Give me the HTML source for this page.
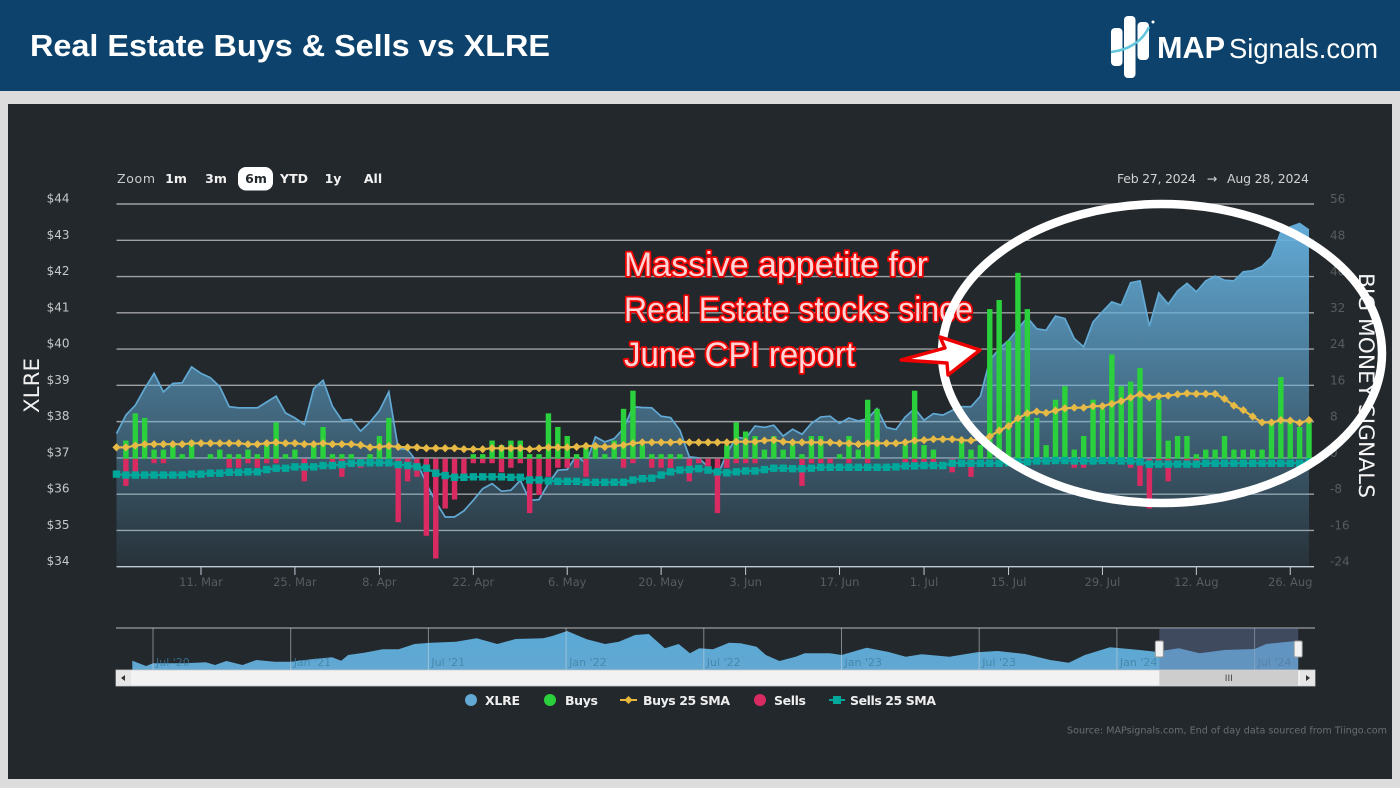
<!DOCTYPE html>
<html lang="en">
<head>
<meta charset="utf-8">
<title>Real Estate Buys &amp; Sells vs XLRE</title>
<style>
html,body{margin:0;padding:0;background:#dcdcdc;}
svg{display:block;}
text{font-family:"DejaVu Sans","Liberation Sans",sans-serif;}
.hd{font-family:"Liberation Sans",sans-serif;}
.btn{font-size:12.5px;font-weight:700;fill:#f2f2f2;text-anchor:middle;}
.leg{font-size:12.5px;font-weight:700;fill:#eeeeee;}
.note{font-family:"Liberation Sans",sans-serif;font-size:34px;fill:#ffd4d4;stroke:#f00000;stroke-width:3.6px;paint-order:stroke;stroke-linejoin:round;}
</style>
</head>
<body>
<svg id="root" xmlns="http://www.w3.org/2000/svg" width="1400" height="788" viewBox="0 0 1400 788">
  <defs>
    <linearGradient id="areaGrad" x1="0" y1="0" x2="0" y2="1">
      <stop offset="0" stop-color="#64afdc" stop-opacity="0.97"/>
      <stop offset="1" stop-color="#64afdc" stop-opacity="0.07"/>
    </linearGradient>
    <linearGradient id="navGrad" x1="0" y1="0" x2="0" y2="1">
      <stop offset="0" stop-color="#5aa9d6"/>
      <stop offset="1" stop-color="#62a8d2"/>
    </linearGradient>
  </defs>
  <rect width="1400" height="788" fill="#dcdcdc"/>
  <rect width="1400" height="91" fill="#0c426b"/>
  <text class="hd" x="30" y="56" font-size="31" font-weight="700" fill="#fff" textLength="520" lengthAdjust="spacingAndGlyphs">Real Estate Buys &amp; Sells vs XLRE</text>
  <g>
    <rect x="1111" y="28" width="11.5" height="38" rx="4" fill="#fff"/>
    <rect x="1124" y="16" width="11.5" height="62" rx="4" fill="#fff"/>
    <rect x="1137.5" y="22" width="11.5" height="38" rx="4" fill="#fff"/>
    <path d="M1111 52 C1128 50 1142 42 1149 27" fill="none" stroke="#62c6dc" stroke-width="2.6"/>
    <circle cx="1153" cy="22" r="1.5" fill="#fff"/>
    <text class="hd" x="1157" y="58" font-size="31" font-weight="700" fill="#fff" textLength="68" lengthAdjust="spacingAndGlyphs">MAP</text>
    <text class="hd" x="1229" y="58" font-size="28" fill="#fff" textLength="149" lengthAdjust="spacingAndGlyphs">Signals.com</text>
  </g>
  <rect x="8" y="104" width="1384" height="675" fill="#23282c"/>

  <g>
    <text x="117" y="183" font-size="12.5" fill="#c8cacb" textLength="38">Zoom</text>
    <text class="btn" x="176" y="183">1m</text>
    <text class="btn" x="216" y="183">3m</text>
    <rect x="238" y="167" width="35" height="23.5" rx="8" fill="#fff"/>
    <text class="btn" x="256" y="183" style="fill:#23282c">6m</text>
    <text class="btn" x="294" y="183">YTD</text>
    <text class="btn" x="333" y="183">1y</text>
    <text class="btn" x="373" y="183">All</text>
  </g>
  <g>
    <text x="1117" y="183" font-size="12.5" fill="#d0d2d3" textLength="79">Feb 27, 2024</text>
    <text x="1212" y="183" font-size="12.5" fill="#d0d2d3" text-anchor="middle">→</text>
    <text x="1227" y="183" font-size="12.5" fill="#d0d2d3" textLength="82">Aug 28, 2024</text>
  </g>

  <g id="gridLayer"></g>
  <g id="areaLayer"></g>
  <g id="barLayer"></g>
  <g id="smaLayer"></g>
  <g id="axisLayer"></g>

  <text transform="translate(39,413) rotate(-90)" font-size="21" fill="#f0f0f0" textLength="55" lengthAdjust="spacingAndGlyphs">XLRE</text>
  <text transform="translate(1359,273) rotate(90)" font-size="21" fill="#f5f5f5" textLength="225" lengthAdjust="spacingAndGlyphs">BIG MONEY SIGNALS</text>

  <g id="navLayer"></g>

  <g>
    <g>
      <circle cx="471" cy="700" r="6" fill="#62a9d4"/>
      <text class="leg" x="485" y="705" textLength="35">XLRE</text>
    </g>
    <g>
      <circle cx="550" cy="700" r="6" fill="#2ad13c"/>
      <text class="leg" x="565" y="705" textLength="33">Buys</text>
    </g>
    <g>
      <line x1="620" y1="700" x2="637" y2="700" stroke="#e8b83c" stroke-width="2"/>
      <polygon points="628.5,696 632.5,700 628.5,704 624.5,700" fill="#e8b83c"/>
      <text class="leg" x="643" y="705" textLength="87">Buys 25 SMA</text>
    </g>
    <g>
      <circle cx="760" cy="700" r="6" fill="#d92b62"/>
      <text class="leg" x="774" y="705" textLength="32">Sells</text>
    </g>
    <g>
      <line x1="829" y1="700" x2="845" y2="700" stroke="#00a79b" stroke-width="2"/>
      <rect x="833" y="696" width="8" height="8" fill="#00a79b"/>
      <text class="leg" x="850" y="705" textLength="86">Sells 25 SMA</text>
    </g>
  </g>
  <text x="1067" y="733.5" font-size="9.5" fill="#6a6e70" textLength="320" lengthAdjust="spacingAndGlyphs">Source: MAPsignals.com, End of day data sourced from Tiingo.com</text>

  <g>
    <text class="note" x="624" y="276" textLength="304" lengthAdjust="spacingAndGlyphs">Massive appetite for</text>
    <text class="note" x="624" y="321" textLength="349" lengthAdjust="spacingAndGlyphs">Real Estate stocks since</text>
    <text class="note" x="624" y="366" textLength="231" lengthAdjust="spacingAndGlyphs">June CPI report</text>
    <ellipse cx="1162" cy="353.5" rx="220" ry="149.5" fill="none" stroke="#fff" stroke-width="8.5"/>
    <polygon points="901,360 945,348 940,337 980,350 948,375 947,363" fill="#fff" stroke="#ee0000" stroke-width="3.4" stroke-linejoin="round"/>
  </g>
</svg>

<script>
var tickLabels = ['11. Mar','25. Mar','8. Apr','22. Apr','6. May','20. May','3. Jun','17. Jun','1. Jul','15. Jul','29. Jul','12. Aug','26. Aug'];
var tickDayIndex = [9,19,28,38,48,58,67,77,86,95,105,115,125];
var priceTicks = [44,43,42,41,40,39,38,37,36,35,34];
var signalTicks = [56,48,40,32,24,16,8,0,-8,-16,-24];

var xlreValues = [37.67,38.18,38.45,38.91,39.33,38.82,39.05,39.07,39.51,39.33,
39.21,38.96,38.41,38.38,38.38,38.38,38.54,38.70,38.24,38.10,
37.92,38.91,39.14,38.42,38.04,38.06,37.74,37.99,38.30,38.82,
37.26,37.23,36.89,36.29,35.79,35.37,35.37,35.54,35.83,36.15,
36.29,36.08,36.11,36.38,35.83,35.85,36.29,36.66,36.68,37.07,
36.84,37.58,37.44,37.53,37.81,38.41,38.39,38.38,38.15,38.11,
37.76,37.03,37.00,36.75,36.52,37.12,37.58,37.53,37.88,37.84,
37.90,37.60,37.79,37.65,37.95,38.13,38.15,37.95,38.10,38.02,
38.08,38.36,37.84,37.78,38.13,38.36,38.04,38.22,38.18,38.31,
38.41,38.41,38.70,39.69,40.01,40.24,40.56,40.87,40.56,40.52,
40.91,40.84,40.29,40.06,40.75,41.03,41.30,41.21,41.83,41.88,
40.63,41.55,41.24,41.60,41.81,41.58,41.88,42.01,41.90,41.88,
42.13,42.16,42.28,42.54,43.23,43.37,43.46,43.28];

var buysValues = [0,4,10,9,2,2,3,1,4,0,
1,2,1,1,2,1,3,8,1,2,
0,3,7,1,1,1,0,1,5,9,
0,0,0,0,0,0,0,0,1,1,
4,3,4,4,1,1,10,7,5,1,
3,3,1,4,11,15,3,1,1,1,
1,0,0,0,0,3,8,6,5,2,
5,2,3,1,5,5,0,1,5,2,
13,11,0,0,3,15,3,2,0,0,
4,2,3,33,35,26,41,33,9,3,
13,16,2,5,13,11,23,16,17,20,
0,13,4,5,5,1,2,2,5,2,
2,2,2,8,18,8,7,8];

var sellsValues = [0,-6,-3,0,-1,-1,0,0,0,0,
0,0,-2,-2,-1,-2,-1,-1,0,0,
-5,0,0,-1,-4,0,-2,0,0,0,
-14,-5,-4,-17,-22,-11,-9,-4,-1,-1,
-1,-3,-2,-1,-12,-8,-4,-2,-2,-2,
-4,0,0,0,-2,-1,0,-2,-2,-2,
0,-5,-1,-2,-12,-2,-1,-1,-1,0,
0,0,0,-6,-1,-1,-1,0,-1,0,
-1,0,0,0,-1,-1,-1,-1,0,-3,
0,-4,0,0,0,0,0,0,0,0,
0,0,-2,-2,0,0,0,0,-2,-6,
-11,-1,-5,0,-1,-1,0,0,0,0,
0,0,0,0,0,0,0,0];

var buysSmaValues = [2.5,2.5,2.9,3.2,3.2,3.2,3.2,3.2,3.4,3.4,
3.4,3.4,3.4,3.4,3.2,3.2,3.4,3.6,3.4,3.4,
3.2,3.2,3.4,3.2,3.2,3.2,3.0,2.5,2.6,2.8,
2.6,2.5,2.5,2.3,2.3,2.3,2.3,2.1,2.1,2.1,
2.3,2.3,2.3,2.3,2.1,2.3,2.5,2.5,2.5,2.6,
2.8,2.8,2.6,2.8,3.0,3.4,3.6,3.6,3.6,3.6,
3.75,3.6,3.6,3.6,3.6,3.6,3.75,3.75,3.75,4.0,
4.1,3.75,3.6,3.6,3.6,3.6,3.6,3.4,3.4,3.2,
3.4,3.4,3.4,3.4,3.6,4.0,4.1,4.3,4.3,4.3,
4.1,4.0,4.3,4.9,6.2,7.2,8.9,10.0,10.4,10.1,
10.6,11.1,11.25,11.25,11.6,11.6,12.1,12.7,13.5,14.2,
13.5,13.8,13.9,14.2,14.4,14.3,14.3,14.3,13.2,11.7,
10.7,9.3,8.0,8.0,8.5,8.4,7.9,8.5];

var sellsSmaValues = [-3.4,-3.6,-3.6,-3.6,-3.6,-3.6,-3.6,-3.6,-3.4,-3.4,
-3.2,-3.2,-3.0,-3.0,-2.9,-2.9,-2.4,-2.1,-2.1,-1.8,
-1.8,-1.8,-1.5,-1.5,-1.3,-1.0,-0.9,-0.9,-0.9,-0.9,
-1.3,-1.5,-1.8,-2.1,-3.2,-3.7,-4.1,-4.1,-4.0,-4.0,
-4.0,-4.0,-4.1,-4.1,-4.7,-4.7,-4.9,-5.0,-5.0,-5.0,
-5.2,-5.2,-5.2,-5.2,-5.2,-4.7,-4.4,-4.3,-3.6,-2.9,
-2.5,-2.4,-2.2,-2.5,-2.9,-3.1,-2.9,-2.7,-2.7,-2.4,
-2.1,-2.1,-2.2,-2.2,-2.1,-1.9,-1.9,-1.9,-1.9,-1.9,
-1.9,-1.9,-1.9,-1.8,-1.6,-1.6,-1.5,-1.5,-1.5,-1.0,
-1.0,-1.0,-1.0,-1.0,-1.0,-0.9,-0.7,-0.7,-0.5,-0.5,
-0.4,-0.4,-0.5,-0.5,-0.5,-0.4,-0.4,-0.5,-0.5,-0.7,
-1.2,-1.2,-1.2,-1.2,-1.2,-1.2,-1.0,-1.0,-1.0,-1.0,
-1.0,-1.0,-1.0,-1.0,-1.0,-1.0,-1.0,-0.7];

var navLabels = ["Jul '20","Jan '21","Jul '21","Jan '22","Jul '22","Jan '23","Jul '23","Jan '24","Jul '24"];
var navLabelMonths = [6,12,18,24,30,36,42,48,54];
var navMonths = [5.1,5.7,6,6.7,7.4,8.3,8.7,9.2,9.9,10.5,11.3,12,12.9,13.8,14.2,14.5,15.2,16,16.7,17.4,18.1,19.2,20.1,21,21.8,23,23.4,24.05,24.9,25.7,26.3,27,27.6,28.3,28.9,29.4,29.8,30.4,31.1,31.6,32.3,32.7,33.3,34,34.4,35.5,36,37.1,38,38.8,39.5,40.7,41.9,42.8,44,45.1,45.9,46.6,47.7,49,49.7,50.7,51.6,52.7,54,54.5,55.9];
var navPrices = [34.65,32,33.35,33.35,33.35,33.85,32.5,34.5,32.5,35,34.15,34.15,35.35,36.35,34.65,37.5,38.65,40.35,40.35,43,43.65,44.15,45.85,43,45.5,45.85,47,49.5,45.35,43,44.15,47.5,48,40.85,43,38.35,40.85,40.35,43.65,43.35,41.65,37.5,34.5,36.65,38.35,38.35,37.5,41.15,39.15,36.65,37.85,36.65,38.85,39.5,38,35,33.65,37.5,41.35,40,39.15,40.85,38.35,40,40.5,43,44.65];
var navSelectedMonths = [49.85,55.9];

var SVGNS = 'http://www.w3.org/2000/svg';
function xDay(i){ return 116.5 + 9.39 * i; }
function yPrice(p){ return 204 + (44 - p) * 36.27; }
function ySignal(v){ return 458.7 - 4.534 * v; }
function xMonth(m){ return 153 + (m - 6) * 22.95; }
function yNav(p){ return 670 - (p - 30) * 2; }
function make(tag, attrs, parent, txt){
  var el = document.createElementNS(SVGNS, tag);
  for (var k in attrs) el.setAttribute(k, attrs[k]);
  if (txt !== undefined) el.textContent = txt;
  parent.appendChild(el);
  return el;
}
function pts(values, xf, yf){
  return values.map(function(v, i){ return xf(i).toFixed(1) + ',' + yf(v).toFixed(1); }).join(' ');
}

var gridLayer = document.getElementById('gridLayer');
var axisLayer = document.getElementById('axisLayer');
var areaLayer = document.getElementById('areaLayer');
var barLayer = document.getElementById('barLayer');
var smaLayer = document.getElementById('smaLayer');
var navLayer = document.getElementById('navLayer');

priceTicks.forEach(function(p){
  var g = make('line', {x1:116.5, x2:1314, y1:yPrice(p), y2:yPrice(p), stroke:p === 34 ? '#c4ccd6' : '#a0a1a2', 'stroke-width':1.4}, gridLayer);
  
  
  var t = make('text', {x:69.5, y:yPrice(p) - 1.5, 'font-size':12, fill:'#c6c9ca', 'text-anchor':'end'}, axisLayer, '$' + p);
  
  
});
signalTicks.forEach(function(v, i){
  var t = make('text', {x:1330, y:yPrice(priceTicks[i]) - 1, 'font-size':12, fill:'#585c5f'}, axisLayer, String(v));
  
  
});
tickLabels.forEach(function(lab, i){
  var x = xDay(tickDayIndex[i]);
  var l = make('line', {x1:x, x2:x, y1:567, y2:575, stroke:'#c4ccd6', 'stroke-width':1}, axisLayer);
  
  
  var t = make('text', {x:x, y:586, 'font-size':11.5, fill:'#585c5f', 'text-anchor':'middle'}, axisLayer, lab);
  
  
});

var lastX = xDay(xlreValues.length - 1);
var areaPts = xDay(0) + ',567 ' + pts(xlreValues, xDay, yPrice) + ' ' + lastX + ',567';
var area = make('polygon', {points:areaPts, fill:'url(#areaGrad)'}, areaLayer);


var xline = make('polyline', {points:pts(xlreValues, xDay, yPrice), fill:'none', stroke:'#62a9d4', 'stroke-width':1.7}, areaLayer);



var zeroY = ySignal(0);
sellsValues.forEach(function(v, i){
  if (!v) return;
  var y = ySignal(v);
  var r = make('rect', {x:xDay(i) - 2.7, y:zeroY, width:5.4, height:y - zeroY, fill:'#d92b62'}, barLayer);
  
  
});
buysValues.forEach(function(v, i){
  if (!v) return;
  var y = ySignal(v);
  var r = make('rect', {x:xDay(i) - 2.7, y:y, width:5.4, height:zeroY - y, fill:'#2ad13c'}, barLayer);
  
  
});

var sellsLine = make('polyline', {points:pts(sellsSmaValues, xDay, ySignal), fill:'none', stroke:'#00a79b', 'stroke-width':2.2}, smaLayer);


sellsSmaValues.forEach(function(v, i){
  var x = xDay(i), y = ySignal(v);
  var r = make('rect', {x:x - 3.7, y:y - 3.7, width:7.4, height:7.4, fill:'#00a79b'}, smaLayer);
  
  
});
var buysLine = make('polyline', {points:pts(buysSmaValues, xDay, ySignal), fill:'none', stroke:'#e6ba45', 'stroke-width':2.2}, smaLayer);


buysSmaValues.forEach(function(v, i){
  var x = xDay(i), y = ySignal(v), d = 4.1;
  var p = make('polygon', {points:x + ',' + (y - d) + ' ' + (x + d) + ',' + y + ' ' + x + ',' + (y + d) + ' ' + (x - d) + ',' + y, fill:'#e6ba45'}, smaLayer);
  
  
});

/* navigator */
var navTop = make('line', {x1:116, x2:1315, y1:628, y2:628, stroke:'#9a9c9d', 'stroke-width':1.2}, navLayer);


var navArea = make('polygon', {points:xMonth(navMonths[0]) + ',670 ' + navPrices.map(function(p, i){ return xMonth(navMonths[i]).toFixed(1) + ',' + yNav(p).toFixed(1); }).join(' ') + ' ' + xMonth(navMonths[navMonths.length - 1]) + ',670', fill:'url(#navGrad)'}, navLayer);


navLabels.forEach(function(lab, i){
  var x = xMonth(navLabelMonths[i]);
  var l = make('line', {x1:x, x2:x, y1:628, y2:670, stroke:'#c9d3dc', 'stroke-opacity':0.55, 'stroke-width':1}, navLayer);
  
  
  var t = make('text', {x:x + 3, y:666, 'font-size':11, fill:'#3f7da3', 'fill-opacity':0.75}, navLayer, lab);
  
  
});
var selX0 = xMonth(navSelectedMonths[0]) , selX1 = xMonth(navSelectedMonths[1]);
var sel = make('rect', {x:selX0, y:628, width:selX1 - selX0, height:42, fill:'#667aa8', 'fill-opacity':0.42}, navLayer);


var track = make('rect', {x:116, y:670, width:1199, height:16, fill:'#f2f2f2', stroke:'#c8c8c8', 'stroke-width':0.8}, navLayer);


var thumb = make('rect', {x:selX0, y:670.5, width:selX1 - selX0, height:15, fill:'#cdcdcd'}, navLayer);


var grip = make('text', {x:(selX0 + selX1) / 2, y:681, 'font-size':9, fill:'#444', 'text-anchor':'middle'}, navLayer, 'III');


var btnL = make('rect', {x:116, y:670.5, width:15, height:15, fill:'#e6e6e6'}, navLayer);


var arrL = make('polygon', {points:'121,678 125,675 125,681', fill:'#333'}, navLayer);


var btnR = make('rect', {x:1300, y:670.5, width:15, height:15, fill:'#e6e6e6'}, navLayer);


var arrR = make('polygon', {points:'1310,678 1306,675 1306,681', fill:'#333'}, navLayer);


[selX0, selX1].forEach(function(x, i){
  var h = make('rect', {x:x - 4, y:641, width:8, height:16, rx:1.5, fill:'#f2f2f2', stroke:'#999', 'stroke-width':1}, navLayer);
  
  
});
</script>
</body>
</html>
